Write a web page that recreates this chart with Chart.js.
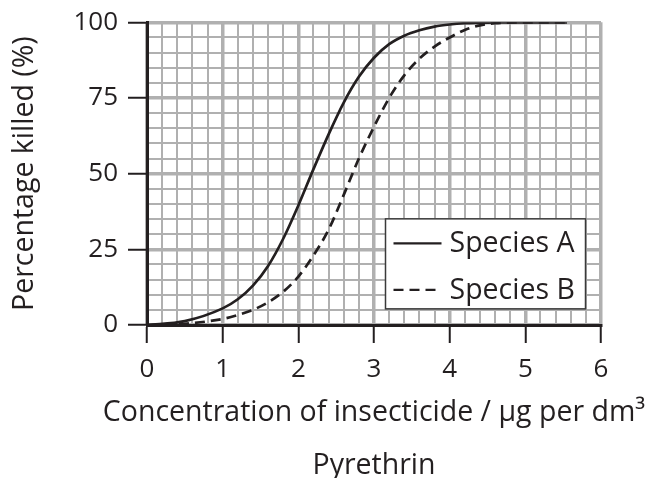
<!DOCTYPE html>
<html><head><meta charset="utf-8">
<script src="https://cdn.jsdelivr.net/npm/chart.js@4/dist/chart.umd.min.js"></script>
<style>html,body{margin:0;padding:0;background:#fff}#wrap{width:652px;height:478px;position:relative}canvas{display:block}</style>
</head><body><div id="wrap"><canvas id="c" width="652" height="478"></canvas></div>
<script>
// ---- data ----
const concentration = [0, 0.5, 1, 1.2, 1.4, 1.6, 1.8, 2, 2.2, 2.4, 2.6, 2.8, 3, 3.2, 3.4, 3.6, 3.8, 4, 4.2, 4.4, 4.6, 5, 5.55];
const speciesA      = [0, 1.3, 5.5, 8.5, 13, 19.5, 28.5, 39.5, 51.5, 63, 73.5, 82, 88.3, 92.8, 95.6, 97.4, 98.6, 99.3, 99.7, 99.85, 99.95, 100, 100];
const speciesB      = [0, 0.4, 2, 3.3, 5, 7.5, 11, 16, 23, 31.5, 43, 55, 65.5, 75, 82.5, 88, 92, 95, 97.5, 99, 99.7, 100, 100];
const seriesNames = ['Species A', 'Species B'];
const xTickLabels = ['0', '1', '2', '3', '4', '5', '6'];
const yTickLabels = ['0', '25', '50', '75', '100'];
const xAxisTitle = 'Concentration of insecticide / µg per dm³';
const xSubTitle = 'Pyrethrin';
const yAxisTitle = 'Percentage killed (%)';

const INK = '#231f20';
const GRID = '#b0b0b0';
const FONT = "'Open Sans', sans-serif";
const FS = 26;     // tick labels
const FT = 28.5;   // titles and legend

const isMajorX = v => Math.abs(v - Math.round(v)) < 1e-6;
const isMajorY = v => Math.abs(v / 25 - Math.round(v / 25)) < 1e-6;

const legendPlugin = {
  id: 'boxLegend',
  afterDatasetsDraw(chart) {
    const {ctx, chartArea: a} = chart;
    const left = a.left + 238.5, top = a.top + 196.5, w = 200, h = 90;
    ctx.save();
    ctx.fillStyle = '#fff';
    ctx.fillRect(left, top, w, h);
    ctx.strokeStyle = '#3a3a3a';
    ctx.lineWidth = 1.5;
    ctx.strokeRect(left, top, w, h);
    chart.data.datasets.forEach((ds, i) => {
      const y = top + 24.5 + i * 46.5;
      ctx.beginPath();
      ctx.setLineDash(ds.borderDash || []);
      ctx.strokeStyle = ds.borderColor;
      ctx.lineWidth = 2.2;
      ctx.moveTo(left + 8, y);
      ctx.lineTo(left + 56, y);
      ctx.stroke();
      ctx.setLineDash([]);
      ctx.fillStyle = INK;
      ctx.font = `${FT}px ${FONT}`;
      ctx.textAlign = 'left';
      ctx.textBaseline = 'middle';
      ctx.fillText(ds.label, left + 64, y + 1);
    });
    ctx.restore();
  }
};

const xTitlePlugin = {
  id: 'xTitles',
  afterDraw(chart) {
    const {ctx, chartArea: a} = chart;
    const cx = (a.left + a.right) / 2;
    ctx.save();
    ctx.fillStyle = INK;
    ctx.font = `${FT}px ${FONT}`;
    ctx.textAlign = 'center';
    ctx.textBaseline = 'middle';
    ctx.fillText(xAxisTitle, cx, a.bottom + 88);
    ctx.fillText(xSubTitle, cx, a.bottom + 141);
    ctx.restore();
  }
};

new Chart(document.getElementById('c'), {
  type: 'line',
  data: {
    datasets: [
      {label: seriesNames[0], data: concentration.map((x, i) => ({x, y: speciesA[i]})),
       borderColor: INK, borderWidth: 2.7, pointRadius: 0, cubicInterpolationMode: 'monotone', fill: false},
      {label: seriesNames[1], data: concentration.map((x, i) => ({x, y: speciesB[i]})),
       borderColor: INK, borderWidth: 2.7, borderDash: [10, 6], pointRadius: 0, cubicInterpolationMode: 'monotone', fill: false}
    ]
  },
  options: {
    responsive: false,
    animation: false,
    devicePixelRatio: 1,
    layout: {padding: {top: 22, right: 51, left: 0, bottom: 0}},
    plugins: {legend: {display: false}, tooltip: {enabled: false}, title: {display: false}},
    scales: {
      x: {
        type: 'linear', min: 0, max: 6,
        ticks: {stepSize: 0.2, autoSkip: false, maxRotation: 0, padding: 11, color: INK,
          font: {family: FONT, size: FS},
          callback: v => isMajorX(v) ? xTickLabels[Math.round(v)] : ''},
        grid: {color: GRID, lineWidth: c => isMajorX(c.tick.value) ? 3.5 : 2,
          tickLength: 18, tickWidth: 2,
          tickColor: c => isMajorX(c.tick.value) ? INK : 'rgba(0,0,0,0)'},
        border: {color: INK, width: 3},
        afterFit: s => { s.height = 153; }
      },
      y: {
        min: 0, max: 100,
        ticks: {stepSize: 5, autoSkip: false, padding: 10, color: INK,
          font: {family: FONT, size: FS, lineHeight: 0.95},
          callback: v => isMajorY(v) ? yTickLabels[Math.round(v / 25)] : ''},
        grid: {color: GRID, lineWidth: c => isMajorY(c.tick.value) ? 3.5 : 2,
          tickLength: 19, tickWidth: 2,
          tickColor: c => isMajorY(c.tick.value) ? INK : 'rgba(0,0,0,0)'},
        border: {color: INK, width: 3},
        title: {display: true, text: yAxisTitle, color: INK, font: {family: FONT, size: FT}, padding: {top: 8, bottom: 0}},
        afterFit: s => { s.width = 147; }
      }
    }
  },
  plugins: [legendPlugin, xTitlePlugin]
});
</script>
</body></html>
